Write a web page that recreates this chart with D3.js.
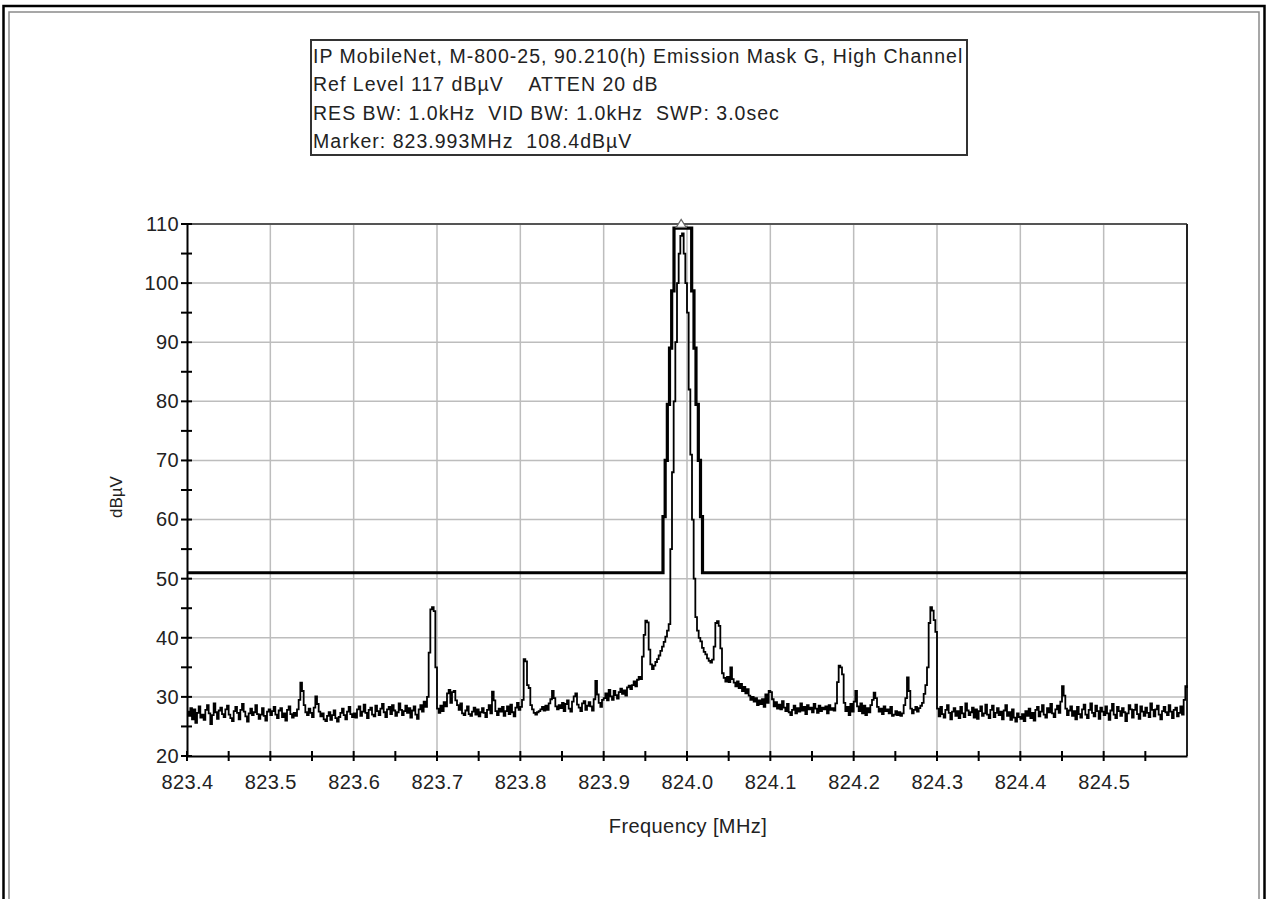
<!DOCTYPE html>
<html><head><meta charset="utf-8">
<script src="https://cdn.jsdelivr.net/npm/d3@7"></script>
<style>body{margin:0;background:#fff}svg{display:block}text{white-space:pre}</style>
</head><body>
<svg id="chart" width="1268" height="899"></svg>
<script>
// ---------- data ----------
const titleLines = [
  "IP MobileNet, M-800-25, 90.210(h) Emission Mask G, High Channel",
  "Ref Level 117 dB\u00b5V    ATTEN 20 dB",
  "RES BW: 1.0kHz  VID BW: 1.0kHz  SWP: 3.0sec",
  "Marker: 823.993MHz  108.4dB\u00b5V"
];
const xLabel = "Frequency [MHz]";
const yLabel = "dB\u00b5V";
const xDomain = [823.4, 824.6];
const yDomain = [20, 110];
const xTicks = [823.4, 823.5, 823.6, 823.7, 823.8, 823.9, 824.0, 824.1, 824.2, 824.3, 824.4, 824.5];
const xMinorTicks = [823.45, 823.55, 823.65, 823.75, 823.85, 823.95, 824.05, 824.15, 824.25, 824.35, 824.45, 824.55];
const yTicks = [20, 30, 40, 50, 60, 70, 80, 90, 100, 110];
const yMinorTicks = [25, 35, 45, 55, 65, 75, 85, 95, 105];

// spectrum trace: start frequency, step (MHz), levels (dBuV)
const traceStart = 823.4;
const traceStep = 0.002;
const traceLevels = [
  // 823.400 - 823.498
  27.5,26.8,28.1,26.2,27.9,25.6,27.3,28.4,26.5,27.0,
  26.1,27.8,28.6,27.2,25.4,26.9,28.9,27.4,26.3,27.7,
  28.2,27.1,26.6,27.9,28.5,27.0,26.4,25.9,27.6,28.3,
  27.3,26.2,27.8,28.8,27.5,26.7,25.8,27.2,28.0,26.9,
  27.4,28.6,27.1,26.3,27.0,28.1,26.8,26.0,27.5,27.9,
  // 823.500 - 823.598
  26.9,27.6,28.3,27.0,26.4,27.7,28.1,26.6,27.2,26.0,
  27.8,28.4,27.1,26.5,27.3,26.8,27.9,29.5,32.4,31.0,
  28.6,27.4,26.9,28.0,27.3,26.6,28.2,30.1,28.8,27.5,
  26.7,27.2,26.2,25.9,26.8,27.4,26.1,26.9,27.7,26.4,
  25.8,26.6,27.3,28.0,26.9,26.2,27.5,28.3,27.1,26.6,
  // 823.600 - 823.698
  27.2,26.5,27.9,28.4,26.8,27.5,28.7,27.3,26.4,27.8,
  28.2,27.0,26.7,28.5,27.6,26.9,28.0,28.8,27.4,26.6,
  27.9,28.3,27.1,28.6,27.7,26.8,27.4,28.9,27.8,26.9,
  27.6,28.5,27.3,28.1,26.5,27.7,28.4,27.0,26.3,27.9,
  28.6,27.5,29.2,28.3,30.0,37.5,44.8,45.2,44.5,35.0,
  // 823.700 - 823.798
  28.0,27.3,28.5,27.6,29.1,28.4,30.6,31.2,29.0,30.8,
  31.0,29.4,28.6,27.8,28.9,27.2,26.9,27.7,28.4,27.1,
  26.8,27.5,28.2,27.0,27.9,26.7,27.4,28.1,27.3,26.6,
  27.8,28.6,27.2,30.9,29.4,27.6,26.9,28.0,27.5,28.3,
  26.8,27.6,28.4,27.1,28.7,27.4,26.7,28.2,29.0,27.8,
  // 823.800 - 823.898
  28.3,29.5,36.4,36.0,32.0,31.5,28.6,27.9,27.3,27.0,
  27.4,27.6,27.9,28.3,27.7,28.5,27.8,28.9,29.6,31.0,
  29.8,28.4,27.9,28.6,28.1,29.0,27.6,28.8,29.4,28.0,
  27.5,29.2,30.1,30.6,28.7,28.2,27.6,28.9,29.3,27.8,
  28.5,29.1,28.4,27.7,29.6,32.7,30.4,29.0,28.3,29.5,
  // 823.900 - 823.998
  29.8,30.6,29.4,31.2,30.1,29.5,31.0,30.3,29.7,30.8,
  31.4,30.5,31.1,30.2,31.6,31.9,31.3,32.0,32.6,31.8,
  32.9,33.4,33.0,36.8,40.5,42.9,42.6,38.0,35.5,34.7,
  35.3,35.9,36.4,37.0,37.8,38.5,39.3,40.2,41.2,42.3,
  55.0,68.0,80.0,90.0,100.0,105.0,108.0,108.4,105.0,100.0,
  // 824.000 - 824.098
  95.0,82.0,71.0,60.0,50.0,43.5,41.2,40.0,39.4,38.3,
  37.6,37.2,36.5,36.1,35.8,36.3,38.5,42.5,42.8,42.0,
  38.2,34.0,33.2,32.6,33.4,32.5,35.0,33.0,32.4,31.8,
  32.6,31.5,32.2,31.0,31.7,30.6,31.3,30.2,29.5,30.0,
  29.2,29.8,28.6,29.4,28.8,29.6,28.3,30.4,29.0,31.0,
  // 824.100 - 824.198
  30.8,29.6,28.4,29.1,28.0,28.7,27.9,29.3,28.2,27.6,
  28.8,27.4,26.9,27.8,28.5,27.2,28.1,27.5,28.9,27.7,
  28.3,27.1,28.6,27.9,28.2,27.4,28.8,28.0,27.3,28.5,
  27.6,28.2,27.9,28.4,27.2,28.6,27.8,28.1,27.7,28.9,
  32.5,35.3,35.0,33.8,29.0,27.6,28.3,26.9,28.8,27.5,
  // 824.200 - 824.298
  29.2,31.0,28.4,27.6,28.9,27.2,28.5,26.9,28.1,27.4,
  28.6,29.5,30.7,29.8,28.3,27.5,28.0,27.1,28.4,27.6,
  27.9,27.2,28.3,26.8,27.0,27.6,26.9,27.4,26.8,27.2,
  28.6,29.8,33.3,31.0,28.0,27.2,27.8,28.3,27.5,28.1,
  28.5,29.0,30.5,32.0,35.0,42.5,45.2,44.6,43.0,41.0,
  // 824.300 - 824.398
  28.0,26.7,28.3,27.1,26.5,27.8,28.6,27.3,26.2,27.5,
  28.1,26.8,27.6,26.4,28.3,27.2,26.6,28.9,27.7,26.9,
  27.4,28.2,26.5,27.9,26.3,27.6,28.4,26.8,27.2,28.7,
  27.0,26.4,27.8,28.5,26.6,27.3,28.1,26.9,27.5,26.2,
  27.7,28.6,26.8,27.4,26.1,27.9,26.5,25.8,27.2,26.6,
  // 824.400 - 824.498
  26.3,27.1,25.9,27.6,26.8,28.0,26.4,27.3,26.0,27.8,
  28.3,26.7,27.5,28.6,27.0,26.5,28.1,27.4,28.8,27.2,
  26.6,27.9,28.5,27.3,29.2,31.8,30.2,28.0,26.9,27.7,
  28.4,26.8,27.6,26.2,28.3,27.1,26.5,27.9,28.7,27.0,
  26.4,27.8,28.9,27.3,26.7,28.5,27.6,26.3,28.2,27.5,
  // 824.500 - 824.600
  26.9,28.4,27.2,26.1,27.7,28.8,27.0,26.4,28.3,27.6,
  26.8,28.1,27.4,25.9,27.2,28.6,27.9,26.5,27.8,28.7,
  27.1,26.3,28.4,27.5,26.8,28.2,27.3,26.6,28.9,27.8,
  26.7,27.9,28.5,27.0,26.2,27.6,28.3,27.4,26.9,28.6,
  27.5,26.4,27.8,28.2,26.7,27.3,28.4,27.0,29.5,31.8,
  31.5
];

// emission mask (step-after breakpoints)
const maskFreq  = [823.4, 823.9712, 823.9738, 823.9764, 823.9790, 823.9816, 823.9844, 824.0056, 824.0084, 824.0108, 824.0136, 824.0162, 824.0186, 824.6];
const maskLevel = [51,    60.5,     70,       79.5,     89,       98.7,     109.3,    98.7,     89,       79.5,     70,       60.5,     51,       51];

const markerFreq = 823.993;
const markerLevel = 108.4;

// ---------- drawing ----------
const svg = d3.select("#chart");
const FONT = "'Liberation Sans', Arial, sans-serif";
const L = 187, R = 1187, T = 224, B = 756;
const x = d3.scaleLinear().domain(xDomain).range([L, R]);
const y = d3.scaleLinear().domain(yDomain).range([B, T]);

// outer frame
svg.append("rect").attr("x", 3.5).attr("y", 6).attr("width", 1261).attr("height", 910)
  .attr("fill", "none").attr("stroke", "#000").attr("stroke-width", 2.5);
svg.append("rect").attr("x", 9).attr("y", 12).attr("width", 1250).attr("height", 900)
  .attr("fill", "none").attr("stroke", "#8a8a8a").attr("stroke-width", 1.5);

// title box
const tb = svg.append("g");
tb.append("rect").attr("x", 311).attr("y", 40).attr("width", 656).attr("height", 115)
  .attr("fill", "#fff").attr("stroke", "#333").attr("stroke-width", 2);
tb.selectAll("text").data(titleLines).join("text")
  .attr("x", 313).attr("y", (d, i) => 63 + i * 28.3)
  .attr("font-family", FONT).attr("font-size", 19.5).attr("letter-spacing", 1.02).attr("fill", "#222")
  .text(d => d);

// grid
const grid = svg.append("g").attr("stroke", "#bdbdbd").attr("stroke-width", 1.5);
grid.selectAll("line.v").data(xTicks.filter(d => d > xDomain[0])).join("line")
  .attr("x1", d => x(d)).attr("x2", d => x(d)).attr("y1", T).attr("y2", B);
grid.selectAll("line.h").data(yTicks.filter(d => d > yDomain[0] && d < yDomain[1])).join("line")
  .attr("class", "h")
  .attr("x1", L).attr("x2", R).attr("y1", d => y(d)).attr("y2", d => y(d));

// plot frame top / right
svg.append("line").attr("x1", L).attr("x2", R).attr("y1", T).attr("y2", T)
  .attr("stroke", "#555").attr("stroke-width", 2);
svg.append("line").attr("x1", R).attr("x2", R).attr("y1", T).attr("y2", B)
  .attr("stroke", "#222").attr("stroke-width", 2);

// axes
const xAxis = d3.axisBottom(x).tickValues(xTicks).tickFormat(d3.format(".1f")).tickSize(0).tickPadding(19);
const gx = svg.append("g").attr("transform", `translate(0,${B})`).call(xAxis);
gx.select(".domain").attr("stroke", "#000").attr("stroke-width", 2);
gx.selectAll("text").attr("font-family", FONT).attr("font-size", 20).attr("letter-spacing", 0.4).attr("fill", "#222");
const yAxis = d3.axisLeft(y).tickValues(yTicks).tickSize(0).tickPadding(8);
const gy = svg.append("g").attr("transform", `translate(${L},0)`).call(yAxis);
gy.select(".domain").attr("stroke", "#000").attr("stroke-width", 2);
gy.selectAll("text").attr("font-family", FONT).attr("font-size", 20).attr("letter-spacing", 0.4).attr("fill", "#222");

// crossing tick marks
const tk = svg.append("g").attr("stroke", "#000").attr("stroke-width", 2);
tk.selectAll("line.xt").data(xTicks.concat(xMinorTicks)).join("line")
  .attr("x1", d => x(d)).attr("x2", d => x(d)).attr("y1", B - 5).attr("y2", B + 5);
tk.selectAll("line.yt").data(yTicks.concat(yMinorTicks)).join("line")
  .attr("class", "yt")
  .attr("x1", L - 6).attr("x2", L + 5).attr("y1", d => y(d)).attr("y2", d => y(d));

// axis titles
svg.append("text").attr("x", (L + R) / 2 + 1).attr("y", 833).attr("text-anchor", "middle")
  .attr("font-family", FONT).attr("font-size", 20).attr("letter-spacing", 0.4).attr("fill", "#222").text(xLabel);
svg.append("text").attr("transform", "translate(122,497) rotate(-90)").attr("text-anchor", "middle")
  .attr("font-family", FONT).attr("font-size", 17).attr("fill", "#222").text(yLabel);

// mask
const maskData = maskFreq.map((f, i) => [f, maskLevel[i]]);
svg.append("path").datum(maskData)
  .attr("d", d3.line().x(d => x(d[0])).y(d => y(d[1])).curve(d3.curveStepAfter))
  .attr("fill", "none").attr("stroke", "#000").attr("stroke-width", 3.2);

// trace
const traceData = traceLevels.map((v, i) => [traceStart + i * traceStep, v]);
svg.append("path").datum(traceData)
  .attr("d", d3.line().x(d => x(d[0])).y(d => y(d[1])).curve(d3.curveStepAfter))
  .attr("fill", "none").attr("stroke", "#000").attr("stroke-width", 1.8);

// marker triangle
const mx = x(markerFreq), my = y(markerLevel) - 6;
svg.append("path").attr("d", `M${mx - 5},${my} L${mx + 5},${my} L${mx},${my - 8} Z`)
  .attr("fill", "#fff").attr("stroke", "#666").attr("stroke-width", 1.2);
</script>
</body></html>
